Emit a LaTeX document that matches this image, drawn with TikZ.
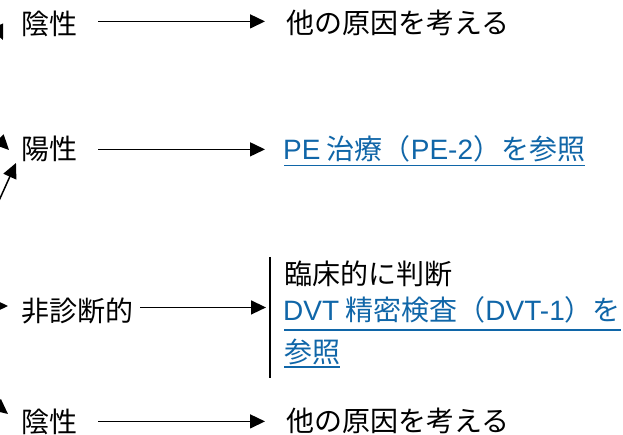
\documentclass[tikz,border=0pt]{standalone}
\usepackage{fontspec}
\setmainfont{Noto Sans CJK JP}
\newfontfamily\latf{Liberation Sans}
\usetikzlibrary{arrows.meta,calc}
\definecolor{linkblue}{RGB}{16,102,168}
\begin{document}
\begin{tikzpicture}[x=1pt,y=-1pt,
  lbl/.style={inner sep=0pt,anchor=base west,font=\fontsize{28}{34}\selectfont},
  linktext/.style={lbl,text=linkblue},
  arr/.style={line width=1.5pt,-{Triangle[length=15pt,width=14pt]}},
  uline/.style={draw=linkblue,line width=1.6pt},
  barline/.style={line width=2pt}]
\useasboundingbox (0,0) rectangle (623,435);
\clip (0,0) rectangle (623,435);

% labels
\node[lbl] (neg1) at (21,35) {陰性};
\node[lbl] (oth1) at (286,34) {他の原因を考える};
\node[lbl] (pos) at (21,160) {陽性};
\node[linktext] (pe) at (283,160) {{\latf PE} 治療（{\latf PE-2}）を参照};
\node[lbl] (nd) at (21,321) {非診断的};
\node[lbl] (clin) at (284,285) {臨床的に判断};
\node[linktext] (dvt1) at (283,320) {{\latf DVT} 精密検査（{\latf DVT-1}）を};
\node[linktext] (dvt2) at (284,362) {参照};
\node[lbl] (neg2) at (21,432) {陰性};
\node[lbl] (oth2) at (286,431) {他の原因を考える};

% underlines of links
\draw[uline] ($(pe.base west)+(1,5.5)$) -- ($(pe.base east)+(0,5.5)$);
\draw[uline] ($(dvt1.base west)+(1,10)$) -- ($(dvt1.base east)+(0,10)$);
\draw[uline] ($(dvt2.base west)+(0,5)$) -- ($(dvt2.base east)+(0,5)$);

% bracket bar
\coordinate (bt) at (270,257);
\coordinate (bb) at (270,378);
\draw[barline] (bt) -- (bb);

% row connectors
\draw[arr] ([xshift=21pt,yshift=3pt]neg1.east) -- ([xshift=-21pt,yshift=3pt]neg1.east -| oth1.west);
\draw[arr] ([xshift=21pt]pos.east) -- ([xshift=-21pt]pos.east -| oth1.west);
\draw[arr] ([xshift=7pt,yshift=3pt]nd.east) -- ([xshift=-4pt,yshift=3pt]nd.east -| bt);
\draw[arr] ([xshift=21pt]neg2.east) -- ([xshift=-21pt]neg2.east -| oth2.west);

% incoming arrows from outside the frame
\coordinate (s1) at (-25,-20); \coordinate (t1) at (3,40);
\coordinate (s2) at (-45,95);  \coordinate (t2) at (9,150);
\coordinate (s3) at (-12,225); \coordinate (t3) at (16,163);
\coordinate (s4) at (-50,306); \coordinate (t4) at (8,306);
\coordinate (s5) at (-40,375); \coordinate (t5) at (8,414);
\draw[arr] (s1) -- (t1);
\draw[arr] (s2) -- (t2);
\draw[arr] (s3) -- (t3);
\draw[arr] (s4) -- (t4);
\draw[arr] (s5) -- (t5);
\end{tikzpicture}
\end{document}
